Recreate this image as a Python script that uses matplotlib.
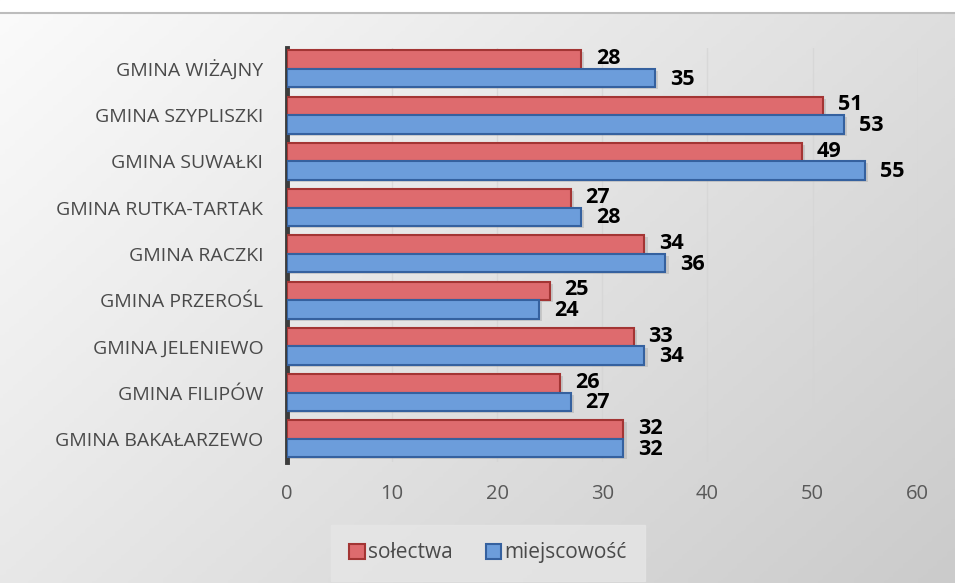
import matplotlib
matplotlib.use('Agg')
import matplotlib.pyplot as plt
import numpy as np

# data, listed from bottom to top as they appear on the y axis
gminy = ['GMINA BAKAŁARZEWO', 'GMINA FILIPÓW', 'GMINA JELENIEWO', 'GMINA PRZEROŚL',
         'GMINA RACZKI', 'GMINA RUTKA-TARTAK', 'GMINA SUWAŁKI', 'GMINA SZYPLISZKI',
         'GMINA WIŻAJNY']
solectwa = [32, 26, 33, 25, 34, 27, 49, 51, 28]
miejscowosci = [32, 27, 34, 24, 36, 28, 55, 53, 35]

plt.rcParams['font.family'] = ['Open Sans', 'DejaVu Sans']

fig = plt.figure(figsize=(9.55, 5.83), dpi=100)

# gradient background (light top-left to grey bottom-right)
bg = fig.add_axes([0, 0, 1, 1], zorder=-10)
gx, gy = np.meshgrid(np.linspace(0, 1, 200), np.linspace(0, 1, 200))
grad = 0.6 * gx + 0.4 * gy
bg.imshow(grad, cmap=matplotlib.colors.LinearSegmentedColormap.from_list(
    'bg', ['#fbfbfb', '#cbcbcb']), aspect='auto', extent=[0, 1, 0, 1], origin='upper')
bg.set_xlim(0, 1)
bg.set_ylim(0, 1)
bg.axis('off')
# white strip + thin frame like the source image
bg.add_patch(plt.Rectangle((0, 1 - 12 / 583), 1, 12 / 583, color='white', zorder=2))
bg.plot([0, 1], [1 - 13 / 583, 1 - 13 / 583], color='#bdbdbd', lw=1.5, zorder=3)

ax = fig.add_axes([0.3005, 0.2075, 0.6605, 0.71])
ax.patch.set_alpha(0)

y = np.arange(len(gminy))
h = 0.4
red_face, red_edge = '#de6b6e', '#a33534'
blue_face, blue_edge = '#6c9ddb', '#35619f'

# soft shadows for the 3d look
ax.barh(y + h / 2 - 0.04, solectwa, height=h, left=0.3, color='#9a9a9a', alpha=0.35,
        zorder=2, linewidth=0)
ax.barh(y - h / 2 - 0.04, miejscowosci, height=h, left=0.3, color='#9a9a9a', alpha=0.35,
        zorder=2, linewidth=0)

ax.barh(y + h / 2, solectwa, height=h, color=red_face, edgecolor=red_edge,
        linewidth=1.5, zorder=3, label='sołectwa')
ax.barh(y - h / 2, miejscowosci, height=h, color=blue_face, edgecolor=blue_edge,
        linewidth=1.5, zorder=3, label='miejscowość')

for yi, v in zip(y, solectwa):
    ax.text(v + 1.4, yi + h / 2 + 0.02, str(v), ha='left', va='center',
            fontsize=15.5, fontweight='bold', color='black', zorder=5)
for yi, v in zip(y, miejscowosci):
    ax.text(v + 1.4, yi - h / 2 - 0.02, str(v), ha='left', va='center',
            fontsize=15.5, fontweight='bold', color='black', zorder=5)

ax.set_xlim(0, 60)
ax.set_ylim(-0.5, len(gminy) - 0.55)
ax.set_xticks(range(0, 61, 10))
ax.set_yticks(y)
ax.set_yticklabels(gminy)
ax.tick_params(axis='y', length=0, pad=17, labelsize=14, labelcolor='#4a4a4a')
ax.tick_params(axis='x', length=0, pad=16, labelsize=14.5, labelcolor='#595959')

ax.grid(axis='x', color='#d4d4d4', linewidth=1.0, alpha=0.7, zorder=0)
for s in ['top', 'right', 'bottom']:
    ax.spines[s].set_visible(False)
ax.spines['left'].set_color('#3c3c3c')
ax.spines['left'].set_linewidth(3.5)

leg = fig.legend(loc='center', bbox_to_anchor=(0.511, 0.0515), ncol=2, frameon=True,
                 fontsize=15, handlelength=0.75, handleheight=0.75, handletextpad=0.15,
                 columnspacing=1.6, borderpad=0.55)
leg.get_frame().set_facecolor('#e6e6e6')
leg.get_frame().set_edgecolor('#e6e6e6')
leg.get_frame().set_boxstyle('square')
for t in leg.get_texts():
    t.set_color('#4a4a4a')

fig.savefig('out.png', dpi=100)
